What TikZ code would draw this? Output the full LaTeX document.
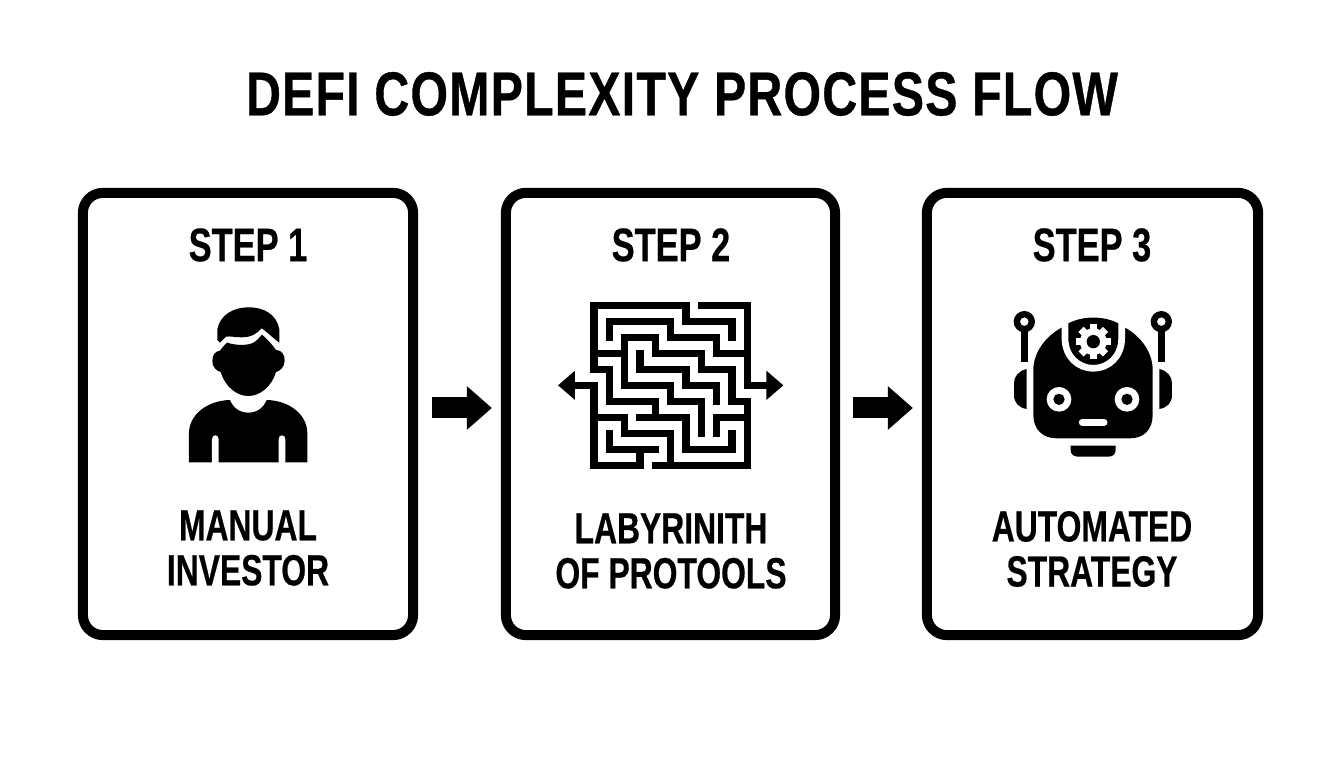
\documentclass[tikz,border=0pt]{standalone}
\usepackage{fontspec}
\usetikzlibrary{arrows.meta}
\newfontfamily\flowfont[FakeStretch=0.73,FakeBold=0.5]{Liberation Sans Bold}
\newfontfamily\headfont[FakeStretch=0.78,LetterSpace=2,FakeBold=0.6]{Liberation Sans Bold}
\tikzset{
	x=0.01cm, y=-0.01cm,
	stepcard/.style={draw=black, fill=white, line width=1mm, rounded corners=2mm, inner sep=0, minimum height=4.42cm},
	steptitle/.style={font=\flowfont\fontsize{13.4}{14}\selectfont, inner sep=0},
	steplabel/.style={font=\flowfont\fontsize{12.4}{12.8}\selectfont, align=center, inner sep=0},
	flowarrow/.style={line width=2.1mm, -{Triangle[length=2.5mm,width=4.2mm]}},
	mazewall/.style={line width=0.73mm, line cap=rect, miter limit=10},
	mazeexit/.style={line width=0.73mm, -{Triangle[length=1.7mm,width=2.8mm]}}
}

\begin{document}
\begin{tikzpicture}
	%%%%% START %%%%%
	\useasboundingbox (0,0) rectangle (1344,768);
	\fill[white] (0,0) rectangle (1344,768);

	\node[font=\headfont\fontsize{17.6}{18}\selectfont, inner sep=0] (flowtitle) at (682,94) {DEFI COMPLEXITY PROCESS FLOW};

	\node[stepcard, minimum width=3.30cm] (card1) at (248,414) {};
	\node[stepcard, minimum width=3.29cm] (card2) at (670.5,414) {};
	\node[stepcard, minimum width=3.31cm] (card3) at (1092.5,414) {};

	\node[steptitle] (step1) at (248,245) {STEP 1};
	\node[steptitle] (step2) at (671,245) {STEP 2};
	\node[steptitle] (step3) at (1092,245) {STEP 3};

	\node[steplabel] (label1) at (248,548) {MANUAL\\INVESTOR};
	\node[steplabel] (label2) at (671,551) {LABYRINITH\\OF PROTOOLS};
	\node[steplabel] (label3) at (1092,549) {AUTOMATED\\STRATEGY};

	\draw[flowarrow, shorten <=1.4mm, shorten >=0.9mm] ([yshift=0.06cm]card1.east) -- ([yshift=0.06cm]card2.west);
	\draw[flowarrow, shorten <=1.3mm, shorten >=0.9mm] ([yshift=0.06cm]card2.east) -- ([yshift=0.06cm]card3.west);

	% person
	\begin{scope}[shift={(170,290)}, scale=1/3]
		\fill (150,158) -- (142,150) -- (142,118) .. controls (150,75) and (190,52) .. (235,52) .. controls (285,52) and (320,75) .. (328,118) -- (328,158) .. controls (310,145) and (290,125) .. (275,115) .. controls (262,130) and (245,142) .. (215,142) .. controls (195,142) and (180,138) .. (168,140) -- cycle;
		\fill (150,182) .. controls (158,172) and (165,162) .. (172,158) .. controls (190,165) and (235,170) .. (255,155) .. controls (265,148) and (270,140) .. (276,134) .. controls (285,142) and (300,155) .. (318,180) .. controls (335,180) and (345,195) .. (344,213) .. controls (343,232) and (330,243) .. (318,246) .. controls (305,290) and (270,318) .. (235,318) .. controls (200,318) and (165,290) .. (152,246) .. controls (140,243) and (127,232) .. (127,213) .. controls (127,195) and (135,184) .. (150,182) -- cycle;
		\fill (57,517) -- (57,430) .. controls (57,375) and (110,332) .. (180,330) .. controls (190,355) and (210,368) .. (235,368) .. controls (260,368) and (280,355) .. (290,330) .. controls (360,332) and (412,375) .. (412,430) -- (412,517) -- cycle;
		\fill[white] (126,520) -- (126,448) .. controls (126,432) and (146,432) .. (146,448) -- (146,520) -- cycle;
		\fill[white] (326,520) -- (326,448) .. controls (326,432) and (346,432) .. (346,448) -- (346,520) -- cycle;
	\end{scope}

	% maze
	\begin{scope}[shift={(594,305.3)}, x=0.1533cm, y=-0.16cm]
		\draw[mazewall] (1,2) -- (1,1) -- (5,1) -- (5,2) -- (8,2) -- (8,3) -- (10,3);
		\draw[mazewall] (0,4) -- (0,0) -- (6,0) -- (6,1) -- (9,1) -- (9,2);
		\draw[mazewall] (7,0) -- (10,0) -- (10,5);
		\draw[mazewall] (0,4) -- (1,4) -- (1,6) -- (4,6) -- (4,7);
		\draw[mazewall] (3,7) -- (6,7) -- (6,9) -- (9,9) -- (9,8);
		\draw[mazewall] (0,3) -- (2,3) -- (2,2) -- (4,2) -- (4,3) -- (7,3) -- (7,4) -- (9,4) -- (9,6) -- (10,6);
		\draw[mazewall] (10,6) -- (10,10) -- (4,10);
		\draw[mazewall] (2,3) -- (2,5) -- (5,5) -- (5,6) -- (7,6) -- (7,8);
		\draw[mazewall] (3,3) -- (3,4) -- (6,4) -- (6,5) -- (8,5) -- (8,6);
		\draw[mazewall] (0,5) -- (0,10) -- (3,10) -- (3,9);
		\draw[mazewall] (1,8) -- (1,9) -- (4,9);
		\draw[mazewall] (0,7) -- (2,7) -- (2,8) -- (5,8) -- (5,10);
		\draw[mazewall] (8,8) -- (8,7) -- (10,7);
		\draw[mazeexit] (0.2,5) -- (-2.35,5);
		\draw[mazeexit] (9.8,5) -- (12.35,5);
	\end{scope}

	% robot
	\begin{scope}[shift={(1000,295)}, scale=1/3]
		\fill[even odd rule] (73,80) circle (32) (73,80) circle (13);
		\fill[even odd rule] (484,80) circle (32) (484,80) circle (13);
		\fill (64,108) rectangle (84,202);
		\fill (474,108) rectangle (494,202);
		\fill (80,222) .. controls (55,228) and (42,245) .. (42,265) -- (42,300) .. controls (42,322) and (55,338) .. (80,342) -- cycle;
		\fill (478,222) .. controls (503,228) and (516,245) .. (516,265) -- (516,300) .. controls (516,322) and (503,338) .. (478,342) -- cycle;
		\fill (100,225) .. controls (100,170) and (140,122) .. (185,98) -- (205,85) .. controls (250,62) and (310,62) .. (355,85) -- (375,98) .. controls (420,122) and (458,170) .. (458,225) -- (458,360) .. controls (458,405) and (430,430) .. (390,430) -- (170,430) .. controls (130,430) and (100,405) .. (100,360) -- cycle;
		\draw[white, line width=0.67mm] (195,70) -- (195,130) .. controls (195,185) and (235,220) .. (280,220) .. controls (325,220) and (365,185) .. (365,130) -- (365,70);
		\fill[white] (280,140) circle (40);
		\foreach \gearangle in {0,45,...,315}
			\fill[white, rotate around={\gearangle:(280,140)}] (269,88) rectangle (291,115);
		\fill (280,140) circle (20);
		\fill[white] (177,313) circle (37);
		\fill[white] (381,313) circle (37);
		\fill (177,313) circle (17);
		\fill (381,313) circle (17);
		\draw[white, line width=0.7mm, line cap=round] (247,382) -- (312,382);
		\fill (212,452) -- (347,452) -- (347,465) .. controls (347,478) and (338,485) .. (325,485) -- (234,485) .. controls (221,485) and (212,478) .. (212,465) -- cycle;
	\end{scope}
	%%%%% END %%%%%
\end{tikzpicture}
\end{document}
